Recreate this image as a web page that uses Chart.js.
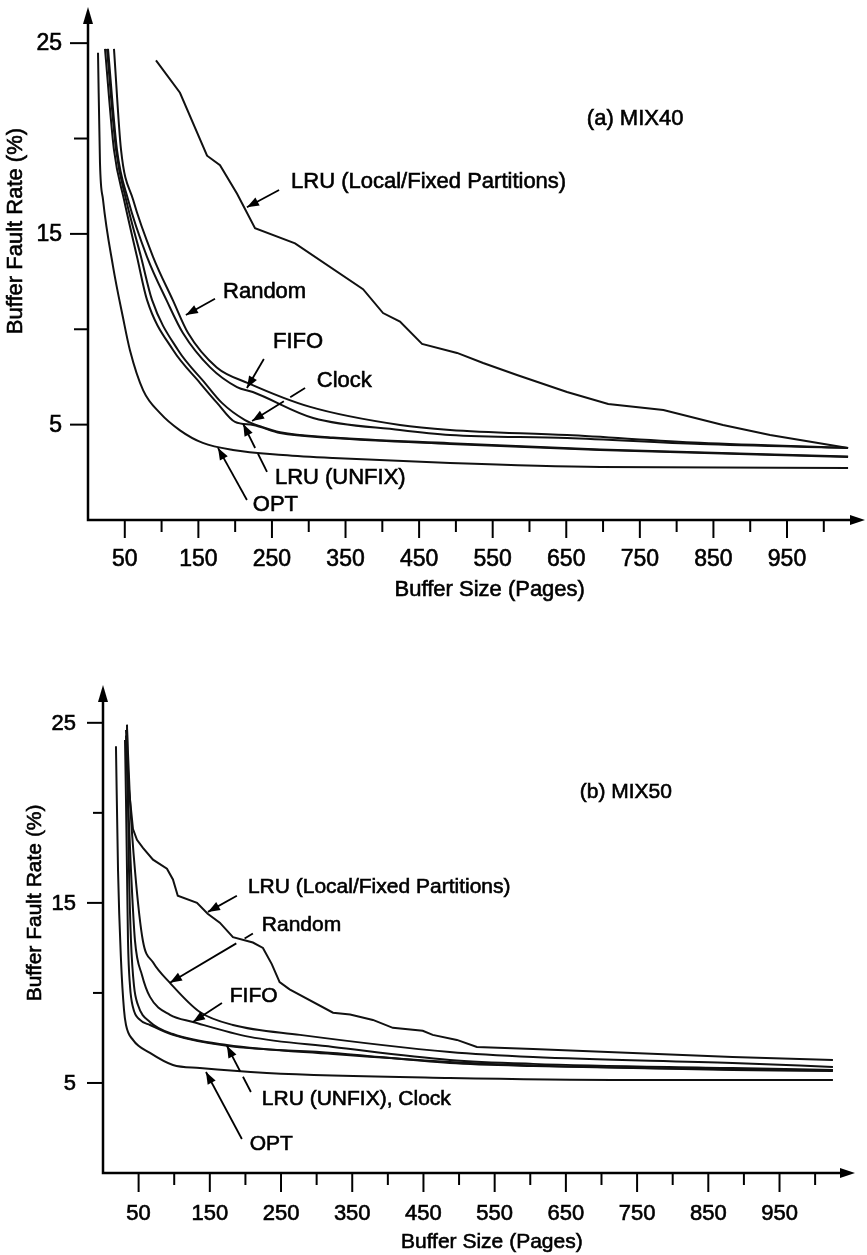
<!DOCTYPE html>
<html>
<head>
<meta charset="utf-8">
<script src="https://cdn.jsdelivr.net/npm/chart.js@4.4.1/dist/chart.umd.min.js"></script>
<style>
    html, body { margin: 0; padding: 0; background: #fff; }
    body { width: 867px; height: 1255px; position: relative; overflow: hidden; }
    canvas { position: absolute; left: 0; }
    #chartMix40 { top: 0; }
    #chartMix50 { top: 620px; }
</style>
</head>
<body>
<canvas id="chartMix40" width="867" height="620"></canvas>
<canvas id="chartMix50" width="867" height="635"></canvas>
<script>
// each point is [buffer size in pages, buffer fault rate in %]
const xTicks = [50, 100, 150, 200, 250, 300, 350, 400, 450, 500, 550, 600, 650, 700, 750, 800, 850, 900, 950, 1000];
const xLabels = [50, 150, 250, 350, 450, 550, 650, 750, 850, 950];
const yTicks = [5, 10, 15, 20, 25];
const yLabels = [5, 15, 25];

// (a) MIX40
const mix40Opt = [[13.6, 24.5], [16.3, 18.7], [20.4, 16.8], [34, 13.3], [47.6, 10.6], [57, 8.9], [75, 6.8], [98, 5.6], [125, 4.7], [156, 4.04], [197, 3.67], [265, 3.41], [333, 3.25], [492, 2.99], [696, 2.78], [1033, 2.73]];
const mix40LruUnfix = [[23.1, 24.7], [35.3, 19.4], [48.9, 16.8], [66.6, 13.8], [80.2, 11.54], [115.6, 8.91], [152.3, 7.18], [175.4, 6.14], [199.8, 5.14], [224.3, 4.98], [261, 4.56], [333, 4.3], [492, 3.99], [696, 3.67], [1033, 3.3]];
const mix40Clock = [[25.8, 24.7], [38.1, 19.4], [51.7, 16.8], [72, 13.8], [87, 11.54], [122.3, 8.91], [159, 7.18], [182, 6.14], [213.4, 5.24], [236.5, 4.88], [261, 4.6], [333, 4.33], [492, 4.03], [696, 3.7], [1033, 3.33]];
const mix40Fifo = [[27.2, 24.7], [39.4, 19.4], [54.4, 16.8], [80.2, 13.8], [107, 11.5], [129, 9.8], [166, 8.0], [202.5, 6.97], [224, 6.71], [306, 5.35], [424, 4.72], [492, 4.46], [651, 4.3], [832, 3.98], [1033, 3.78]];
const mix40Random = [[35.3, 24.7], [44.9, 19.4], [61.2, 16.8], [88.4, 13.8], [115.6, 11.5], [136, 9.8], [175, 8.0], [217.5, 7.18], [302, 5.93], [424, 4.98], [492, 4.72], [651, 4.45], [832, 4.05], [1033, 3.78]];
const mix40LruLocal = [[92.4, 24.1], [125, 22.4], [161.8, 19.1], [179.4, 18.6], [202.6, 17.1], [227, 15.3], [281.4, 14.5], [373.8, 12.1], [401, 10.85], [424, 10.4], [454, 9.23], [501.6, 8.76], [537, 8.23], [583, 7.6], [651, 6.71], [707, 6.08], [782, 5.77], [863, 4.98], [927, 4.46], [1033, 3.78]];

// (b) MIX50
const mix50Opt = [[18.2, 23.7], [21.1, 16.8], [25.3, 11.8], [29.5, 9.06], [32.3, 8.22], [42.1, 7.39], [66, 6.67], [98.2, 6.0], [136, 5.83], [230, 5.56], [487, 5.28], [744, 5.17], [1025, 5.17]];
const mix50LruUnfix = [[30.9, 24.05], [32.3, 20.7], [33.7, 16.8], [35.1, 12.9], [37.9, 10.4], [42.1, 9.2], [52, 8.5], [66, 8.22], [98.2, 7.67], [174, 7.06], [323, 6.67], [487, 6.11], [604, 5.94], [884, 5.72], [1025, 5.67]];
const mix50Clock = [[33.7, 24.9], [35.1, 20.7], [36.5, 16.8], [39.3, 12.9], [43.5, 10.4], [49.1, 9.33], [66, 8.39], [98.2, 7.72], [174, 7.11], [323, 6.61], [487, 6.17], [604, 5.97], [884, 5.76], [1025, 5.71]];
const mix50Fifo = [[32.3, 24.3], [35.1, 20.7], [39.3, 16.8], [44.9, 12.9], [54.7, 11.0], [66, 9.78], [94, 8.78], [126.3, 8.39], [206, 7.56], [323, 7.0], [487, 6.28], [604, 6.06], [884, 5.83], [1025, 5.72]];
const mix50Random = [[33.7, 24.7], [37.9, 20.7], [44.9, 16.8], [56, 12.9], [70.2, 11.7], [94, 10.56], [136, 8.94], [182.5, 8.22], [276.5, 7.67], [487, 6.72], [604, 6.44], [884, 6.11], [1025, 5.89]];
const mix50LruLocal = [[32.3, 24.6], [36.5, 21.3], [42.1, 19.1], [47.7, 18.5], [56.1, 18.06], [70.2, 17.4], [89.8, 16.9], [98.2, 16.3], [105, 15.4], [132, 15.0], [147, 14.4], [164, 13.9], [182.5, 13.1], [210.5, 12.8], [224.6, 12.5], [237, 11.6], [248, 10.6], [262, 10.2], [323, 8.9], [347, 8.8], [379, 8.5], [407, 8.06], [449, 7.9], [463, 7.67], [497, 7.39], [525, 7.0], [604, 6.89], [744, 6.67], [884, 6.44], [1025, 6.28]];

// curve labels, placed in data units; arrows go from "from" to the tip "to"
const mix40Notes = [
    { text: '(a) MIX40', at: [678, 21.1] },
    { text: 'LRU (Local/Fixed Partitions)', at: [276, 17.78], from: [259.7, 17.3], to: [216, 16.4] },
    { text: 'Random', at: [183.5, 12.0], from: [172.6, 11.6], to: [133, 10.75] },
    { text: 'FIFO', at: [251.5, 9.39], from: [239, 8.44], to: [216, 6.92] },
    { text: 'Clock', at: [311, 7.34], from: [295, 6.92], to: [223, 5.19], gap: [0.28, 0.4] },
    { text: 'LRU (UNFIX)', at: [254, 2.25], from: [243.3, 2.52], to: [211, 5.03], gap: [0.38, 0.5] },
    { text: 'OPT', at: [224, 0.84], from: [216, 1.05], to: [176.7, 3.78] },
];
const mix50Notes = [
    { text: '(b) MIX50', at: [669.5, 21.2] },
    { text: 'LRU (Local/Fixed Partitions)', at: [203.5, 15.9], from: [188, 15.4], to: [147.4, 14.5] },
    { text: 'Random', at: [223, 13.8], from: [210.5, 13.3], to: [94, 10.56], gap: [0.1, 0.2] },
    { text: 'FIFO', at: [178, 9.9], from: [167, 9.44], to: [126.3, 8.39] },
    { text: 'LRU (UNFIX), Clock', at: [223, 4.17], from: [207.7, 4.5], to: [174, 7.06], gap: [0.33, 0.45] },
    { text: 'OPT', at: [206, 1.67], from: [195, 1.89], to: [144.6, 5.61] },
];

const FONT = '"Liberation Sans", Arial, Helvetica, sans-serif';

function arrowHead(ctx, x0, y0, x1, y1, len, half) {
    const a = Math.atan2(y1 - y0, x1 - x0);
    ctx.beginPath();
    ctx.moveTo(x1, y1);
    ctx.lineTo(x1 - len * Math.cos(a) + half * Math.sin(a), y1 - len * Math.sin(a) - half * Math.cos(a));
    ctx.lineTo(x1 - len * Math.cos(a) - half * Math.sin(a), y1 - len * Math.sin(a) + half * Math.cos(a));
    ctx.closePath();
    ctx.fill();
}

// printed text in the scan is a bit heavier than plain canvas text
function inkText(ctx, text, x, y) {
    ctx.fillText(text, x, y);
    ctx.save();
    ctx.lineWidth = 0.6;
    ctx.strokeText(text, x, y);
    ctx.restore();
}

// hand drawn look of the original: axes with arrows, long ticks under labels, notes with arrows
const paperAxes = {
    id: 'paperAxes',
    afterDraw(chart, args, o) {
        const { ctx, chartArea: area, scales: { x, y } } = chart;
        ctx.save();
        ctx.strokeStyle = '#000';
        ctx.fillStyle = '#000';
        ctx.lineCap = 'butt';

        ctx.lineWidth = 2.5;
        ctx.beginPath();
        ctx.moveTo(area.left, area.top + o.arrowTop + 10);
        ctx.lineTo(area.left, area.bottom);
        ctx.lineTo(area.right - 10, area.bottom);
        ctx.stroke();
        arrowHead(ctx, area.left, area.bottom, area.left, area.top + o.arrowTop, 17, 5);
        arrowHead(ctx, area.left, area.bottom, area.right, area.bottom, 15, 5);

        ctx.lineWidth = 2;
        ctx.font = o.tickFont + 'px ' + FONT;
        ctx.textAlign = 'center';
        ctx.textBaseline = 'middle';
        xTicks.forEach(v => {
            const px = x.getPixelForValue(v);
            const labelled = xLabels.includes(v);
            ctx.beginPath();
            ctx.moveTo(px, area.bottom);
            ctx.lineTo(px, area.bottom + (labelled ? o.xTickLong : o.xTickShort));
            ctx.stroke();
            if (labelled) inkText(ctx, String(v), px, area.bottom + o.xLabelGap);
        });
        ctx.textAlign = 'right';
        yTicks.forEach(v => {
            const py = y.getPixelForValue(v);
            const labelled = yLabels.includes(v);
            ctx.beginPath();
            ctx.moveTo(area.left, py);
            ctx.lineTo(area.left - (labelled ? o.yTickLong : o.yTickShort), py);
            ctx.stroke();
            if (labelled) inkText(ctx, String(v), area.left - o.yLabelGap, py + 1);
        });

        ctx.font = o.textFont + 'px ' + FONT;
        ctx.textAlign = 'center';
        inkText(ctx, 'Buffer Size (Pages)', x.getPixelForValue(o.titleCenter[0]), area.bottom + o.xTitleGap);
        ctx.save();
        ctx.translate(area.left - o.yTitleGap, y.getPixelForValue(o.titleCenter[1]));
        ctx.rotate(-Math.PI / 2);
        inkText(ctx, 'Buffer Fault Rate (%)', 0, 0);
        ctx.restore();

        ctx.textAlign = 'left';
        ctx.lineWidth = 1.8;
        o.notes.forEach(n => {
            inkText(ctx, n.text, x.getPixelForValue(n.at[0]), y.getPixelForValue(n.at[1]) + 1);
            if (!n.from) return;
            const x0 = x.getPixelForValue(n.from[0]), y0 = y.getPixelForValue(n.from[1]);
            const x1 = x.getPixelForValue(n.to[0]), y1 = y.getPixelForValue(n.to[1]);
            const parts = n.gap ? [[0, n.gap[0]], [n.gap[1], 1]] : [[0, 1]];
            parts.forEach(([t0, t1]) => {
                ctx.beginPath();
                ctx.moveTo(x0 + (x1 - x0) * t0, y0 + (y1 - y0) * t0);
                ctx.lineTo(x0 + (x1 - x0) * t1, y0 + (y1 - y0) * t1);
                ctx.stroke();
            });
            arrowHead(ctx, x0, y0, x1, y1, 12, 4.5);
        });
        ctx.restore();
    }
};

function curve(points, smooth) {
    return {
        data: points.map(p => ({ x: p[0], y: p[1] })),
        borderColor: '#111',
        borderWidth: 2,
        pointRadius: 0,
        fill: false,
        tension: 0,
        cubicInterpolationMode: smooth ? 'monotone' : 'default',
    };
}

function showChart(id, datasets, yMax, padding, axisOpts) {
    const ctx = document.getElementById(id).getContext('2d');
    new Chart(ctx, {
        type: 'line',
        data: { datasets: datasets },
        options: {
            responsive: false,
            animation: false,
            events: [],
            layout: { padding: padding },
            scales: {
                x: { type: 'linear', min: 0, max: 1056, display: false },
                y: { type: 'linear', min: 0, max: yMax, display: false }
            },
            plugins: {
                legend: { display: false },
                tooltip: { enabled: false },
                title: { display: false },
                paperAxes: axisOpts
            }
        },
        plugins: [paperAxes]
    });
}

showChart('chartMix40', [
    curve(mix40Opt, true),
    curve(mix40LruUnfix, true),
    curve(mix40Clock, true),
    curve(mix40Fifo, true),
    curve(mix40Random, true),
    curve(mix40LruLocal, false),
], 27, { left: 88, right: 2, top: 5, bottom: 100 }, {
    notes: mix40Notes, textFont: 22, tickFont: 23, arrowTop: 2,
    xTickLong: 18, xTickShort: 12, yTickLong: 18, yTickShort: 14,
    xLabelGap: 40, yLabelGap: 26, xTitleGap: 70, yTitleGap: 72, titleCenter: [546, 15.15]
});

showChart('chartMix50', [
    curve(mix50Opt, true),
    curve(mix50LruUnfix, true),
    curve(mix50Clock, true),
    curve(mix50Fifo, true),
    curve(mix50Random, true),
    curve(mix50LruLocal, false),
], 27.1, { left: 103, right: 12, top: 65, bottom: 82 }, {
    notes: mix50Notes, textFont: 21, tickFont: 22, arrowTop: 0,
    xTickLong: 19, xTickShort: 12, yTickLong: 16, yTickShort: 10,
    xLabelGap: 41, yLabelGap: 27, xTitleGap: 69, yTitleGap: 68, titleCenter: [546, 15.0]
});
</script>
</body>
</html>
